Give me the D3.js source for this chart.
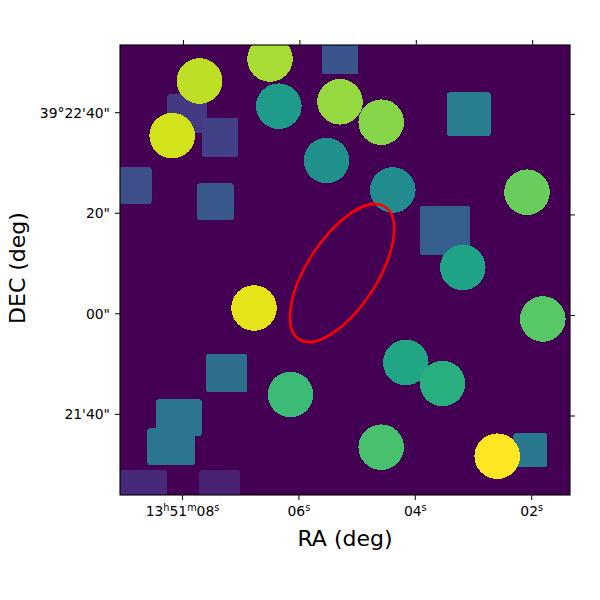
<!DOCTYPE html>
<html>
<head>
<meta charset="utf-8">
<script src="https://cdn.jsdelivr.net/npm/d3@7"></script>
<style>
body { margin: 0; background: #fff; }
text { font-family: "DejaVu Sans", sans-serif; fill: #000; }
</style>
</head>
<body>
<div id="viz"></div>
<script>
// image coordinates: 0..90 pixels each way (about 1 arcsec per pixel), origin lower left
var circleX   = [15.9, 30.0, 31.76, 44.0, 10.44, 41.3, 52.24, 54.56, 81.4, 68.56, 26.8, 34.1, 84.56, 57.16, 64.5, 52.24, 75.44];
var circleY   = [82.8, 87.2, 77.76, 78.64, 71.86, 66.9, 74.56, 61.0, 60.56, 45.5, 37.4, 20.1, 35.2, 26.5, 22.3, 9.56, 7.76];
var circleVal = [0.90, 0.87, 0.55, 0.84, 0.93, 0.50, 0.82, 0.48, 0.77, 0.58, 0.96, 0.68, 0.74, 0.59, 0.63, 0.71, 1.0];
var circleR = 4.56;

var boxX   = [44.06, 13.4, 20.0, 2.66, 19.06, 69.76, 65.0, 21.34, 11.76, 10.24, 4.74, 19.94, 82.06];
var boxY   = [87.74, 76.24, 71.56, 61.86, 58.66, 76.16, 52.9, 24.36, 15.46, 9.66, 1.0, 1.0, 9.0];
var boxW   = [7.2, 7.88, 7.32, 7.34, 7.46, 8.74, 10.0, 8.26, 9.14, 9.54, 9.46, 8.14, 6.8];
var boxH   = [7.2, 7.8, 7.8, 7.34, 7.34, 8.74, 9.8, 7.66, 7.34, 7.34, 8.0, 8.0, 6.68];
var boxVal = [0.26, 0.17, 0.19, 0.24, 0.27, 0.42, 0.30, 0.36, 0.39, 0.39, 0.11, 0.09, 0.40];

// red aperture
var ellX = 44.4, ellY = 44.4, ellA = 15.8, ellB = 7.0, ellAngle = 57;

// WCS ticks
var raTicks = [8, 6, 4, 2];
var raLabels = ["13h51m08s", "06s", "04s", "02s"];
var decTicks = [40, 20, 0, -20];
var decLabels = ["39°22'40\"", "20\"", "00\"", "21'40\""];

var margin = {top: 45, right: 30, bottom: 105, left: 120};
var width = 450, height = 450;

var svg = d3.select("#viz").append("svg")
    .attr("width", 600)
    .attr("height", 600);

var x = d3.scaleLinear().domain([0, 90]).range([margin.left, margin.left + width]);
var y = d3.scaleLinear().domain([0, 90]).range([margin.top + height, margin.top]);
var ra = d3.scaleLinear().domain([8, 2]).range([12.5, 82.34]);
var dec = d3.scaleLinear().domain([40, -20]).range([76.46, 16.14]);
var color = d3.scaleSequential(d3.interpolateViridis).domain([0, 1]);

svg.append("clipPath").attr("id", "clip")
  .append("rect")
    .attr("x", x(0)).attr("y", y(90))
    .attr("width", width).attr("height", height);

var img = svg.append("g").attr("clip-path", "url(#clip)");

img.append("rect")
    .attr("x", x(0)).attr("y", y(90))
    .attr("width", width).attr("height", height)
    .attr("fill", color(0));

img.append("g")
    .attr("shape-rendering", "crispEdges")
  .selectAll("rect")
  .data(d3.range(boxX.length))
  .join("rect")
    .attr("x", i => x(boxX[i] - boxW[i] / 2))
    .attr("y", i => y(boxY[i] + boxH[i] / 2))
    .attr("width", i => x(boxW[i]) - x(0))
    .attr("height", i => y(0) - y(boxH[i]))
    .attr("rx", 3)
    .attr("fill", i => color(boxVal[i]));

img.append("g")
    .attr("shape-rendering", "crispEdges")
  .selectAll("circle")
  .data(d3.range(circleX.length))
  .join("circle")
    .attr("cx", i => x(circleX[i]))
    .attr("cy", i => y(circleY[i]))
    .attr("r", x(circleR) - x(0))
    .attr("fill", i => color(circleVal[i]));

svg.append("ellipse")
    .attr("cx", x(ellX)).attr("cy", y(ellY))
    .attr("rx", x(ellA) - x(0))
    .attr("ry", x(ellB) - x(0))
    .attr("transform", "rotate(" + (-ellAngle) + "," + x(ellX) + "," + y(ellY) + ")")
    .attr("fill", "none")
    .attr("stroke", "red")
    .attr("stroke-width", 2.5);

// frame
svg.append("rect")
    .attr("x", x(0)).attr("y", y(90))
    .attr("width", width).attr("height", height)
    .attr("fill", "none")
    .attr("stroke", "#000")
    .attr("stroke-width", 1.1);

var tickLen = 5;
var ticks = svg.append("g").attr("stroke", "#000").attr("stroke-width", 1);

// RA ticks bottom and top (top is a hair to the right, the grid is slightly rotated)
raTicks.forEach(function (t) {
    var px = x(ra(t));
    ticks.append("line").attr("x1", px).attr("x2", px)
        .attr("y1", y(0)).attr("y2", y(0) + tickLen);
    ticks.append("line").attr("x1", px + 1).attr("x2", px + 1)
        .attr("y1", y(90)).attr("y2", y(90) - tickLen);
});
decTicks.forEach(function (t) {
    var py = y(dec(t));
    ticks.append("line").attr("x1", x(0)).attr("x2", x(0) - tickLen)
        .attr("y1", py).attr("y2", py);
    ticks.append("line").attr("x1", x(90)).attr("x2", x(90) + tickLen)
        .attr("y1", py + 1.7).attr("y2", py + 1.7);
});

// bottom labels with h/m/s superscripts
raTicks.forEach(function (t, i) {
    var txt = svg.append("text")
        .attr("x", x(ra(t)))
        .attr("y", y(0) + 21)
        .attr("text-anchor", "middle")
        .style("font-size", "13.9px");
    var parts = raLabels[i].match(/\d+|[hms]/g);
    var shift = 0;
    parts.forEach(function (p) {
        var sup = /[hms]/.test(p);
        var dy = (sup ? -5 : 0) - shift;
        shift = sup ? -5 : 0;
        txt.append("tspan")
            .attr("dy", dy)
            .style("font-size", sup ? "9.7px" : "13.9px")
            .text(p);
    });
});

decTicks.forEach(function (t, i) {
    svg.append("text")
        .attr("x", x(0) - tickLen - 5)
        .attr("y", y(dec(t)) + 5)
        .attr("text-anchor", "end")
        .style("font-size", "13.9px")
        .text(decLabels[i]);
});

svg.append("text")
    .attr("x", x(45))
    .attr("y", 546)
    .attr("text-anchor", "middle")
    .style("font-size", "22px")
    .text("RA (deg)");

svg.append("text")
    .attr("transform", "translate(25," + (y(45) - 2) + ") rotate(-90)")
    .attr("text-anchor", "middle")
    .style("font-size", "22px")
    .text("DEC (deg)");
</script>
</body>
</html>
